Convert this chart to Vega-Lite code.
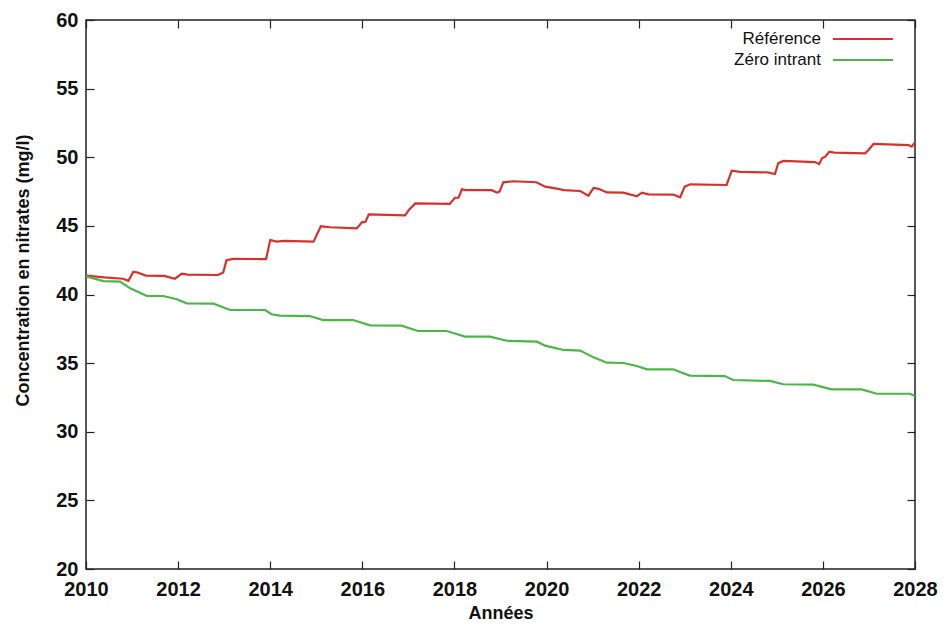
{
  "$schema": "https://vega.github.io/schema/vega-lite/v6.json",
  "width": 829,
  "height": 549,
  "autosize": "none",
  "padding": {"left": 86, "top": 20, "right": 33, "bottom": 55},
  "background": "white",
  "config": {
    "view": {"stroke": "#222222", "strokeWidth": 1.5},
    "font": "Liberation Sans",
    "axis": {
      "grid": false,
      "domain": false,
      "labelFlush": false,
      "labelOverlap": false,
      "tickColor": "#222222",
      "tickWidth": 1.2,
      "tickSize": -8,
      "labelFont": "Liberation Sans Narrow, Liberation Sans",
      "labelFontWeight": "bold",
      "labelFontSize": 20,
      "labelColor": "#111111",
      "titleFont": "Liberation Sans",
      "titleFontWeight": "bold",
      "titleFontSize": 18,
      "titleColor": "#111111"
    },
    "legend": {
      "orient": "none",
      "legendX": 766,
      "legendY": 8,
      "padding": 0,
      "title": null,
      "symbolType": "M-3,0H3",
      "symbolSize": 400,
      "symbolStrokeWidth": 2,
      "labelAlign": "right",
      "labelOffset": -53,
      "labelFont": "Liberation Sans",
      "labelFontSize": 17,
      "labelColor": "#111111",
      "labelLimit": 300,
      "rowPadding": 2
    }
  },
  "data": {
    "values": [
      {"serie": "Référence", "annee": 2010.0, "c": 41.38},
      {"serie": "Référence", "annee": 2010.4, "c": 41.25},
      {"serie": "Référence", "annee": 2010.8, "c": 41.15},
      {"serie": "Référence", "annee": 2010.92, "c": 41.0},
      {"serie": "Référence", "annee": 2011.03, "c": 41.66},
      {"serie": "Référence", "annee": 2011.12, "c": 41.6},
      {"serie": "Référence", "annee": 2011.3, "c": 41.38},
      {"serie": "Référence", "annee": 2011.7, "c": 41.35},
      {"serie": "Référence", "annee": 2011.93, "c": 41.15},
      {"serie": "Référence", "annee": 2012.08, "c": 41.52},
      {"serie": "Référence", "annee": 2012.2, "c": 41.45},
      {"serie": "Référence", "annee": 2012.87, "c": 41.42},
      {"serie": "Référence", "annee": 2012.98, "c": 41.6},
      {"serie": "Référence", "annee": 2013.05, "c": 42.5},
      {"serie": "Référence", "annee": 2013.2, "c": 42.6},
      {"serie": "Référence", "annee": 2013.91, "c": 42.58},
      {"serie": "Référence", "annee": 2014.0, "c": 43.97},
      {"serie": "Référence", "annee": 2014.14, "c": 43.85},
      {"serie": "Référence", "annee": 2014.3, "c": 43.9},
      {"serie": "Référence", "annee": 2014.94, "c": 43.85},
      {"serie": "Référence", "annee": 2015.1, "c": 44.97},
      {"serie": "Référence", "annee": 2015.3, "c": 44.9},
      {"serie": "Référence", "annee": 2015.88, "c": 44.82},
      {"serie": "Référence", "annee": 2015.99, "c": 45.26},
      {"serie": "Référence", "annee": 2016.07, "c": 45.3},
      {"serie": "Référence", "annee": 2016.14, "c": 45.84},
      {"serie": "Référence", "annee": 2016.93, "c": 45.76},
      {"serie": "Référence", "annee": 2017.02, "c": 46.2},
      {"serie": "Référence", "annee": 2017.15, "c": 46.64},
      {"serie": "Référence", "annee": 2017.9, "c": 46.6},
      {"serie": "Référence", "annee": 2018.01, "c": 47.05},
      {"serie": "Référence", "annee": 2018.09, "c": 47.05},
      {"serie": "Référence", "annee": 2018.16, "c": 47.66},
      {"serie": "Référence", "annee": 2018.25, "c": 47.6},
      {"serie": "Référence", "annee": 2018.81, "c": 47.6},
      {"serie": "Référence", "annee": 2018.92, "c": 47.42},
      {"serie": "Référence", "annee": 2018.98, "c": 47.5},
      {"serie": "Référence", "annee": 2019.06, "c": 48.17},
      {"serie": "Référence", "annee": 2019.28, "c": 48.25},
      {"serie": "Référence", "annee": 2019.78, "c": 48.18},
      {"serie": "Référence", "annee": 2019.97, "c": 47.86},
      {"serie": "Référence", "annee": 2020.22, "c": 47.72},
      {"serie": "Référence", "annee": 2020.37, "c": 47.6},
      {"serie": "Référence", "annee": 2020.73, "c": 47.54},
      {"serie": "Référence", "annee": 2020.91, "c": 47.2},
      {"serie": "Référence", "annee": 2021.02, "c": 47.76},
      {"serie": "Référence", "annee": 2021.13, "c": 47.7},
      {"serie": "Référence", "annee": 2021.31, "c": 47.44},
      {"serie": "Référence", "annee": 2021.67, "c": 47.42},
      {"serie": "Référence", "annee": 2021.96, "c": 47.15},
      {"serie": "Référence", "annee": 2022.07, "c": 47.42},
      {"serie": "Référence", "annee": 2022.21, "c": 47.3},
      {"serie": "Référence", "annee": 2022.75, "c": 47.28},
      {"serie": "Référence", "annee": 2022.9, "c": 47.08},
      {"serie": "Référence", "annee": 2023.0, "c": 47.86},
      {"serie": "Référence", "annee": 2023.12, "c": 48.03},
      {"serie": "Référence", "annee": 2023.91, "c": 47.98},
      {"serie": "Référence", "annee": 2024.02, "c": 49.02},
      {"serie": "Référence", "annee": 2024.2, "c": 48.93},
      {"serie": "Référence", "annee": 2024.8, "c": 48.9},
      {"serie": "Référence", "annee": 2024.96, "c": 48.78},
      {"serie": "Référence", "annee": 2025.03, "c": 49.56},
      {"serie": "Référence", "annee": 2025.14, "c": 49.73},
      {"serie": "Référence", "annee": 2025.83, "c": 49.65},
      {"serie": "Référence", "annee": 2025.92, "c": 49.5},
      {"serie": "Référence", "annee": 2025.98, "c": 49.92},
      {"serie": "Référence", "annee": 2026.05, "c": 50.04},
      {"serie": "Référence", "annee": 2026.14, "c": 50.4},
      {"serie": "Référence", "annee": 2026.25, "c": 50.34},
      {"serie": "Référence", "annee": 2026.92, "c": 50.29},
      {"serie": "Référence", "annee": 2026.99, "c": 50.53},
      {"serie": "Référence", "annee": 2027.1, "c": 50.97},
      {"serie": "Référence", "annee": 2027.24, "c": 50.95},
      {"serie": "Référence", "annee": 2027.86, "c": 50.89},
      {"serie": "Référence", "annee": 2027.93, "c": 50.77},
      {"serie": "Référence", "annee": 2028.0, "c": 51.09},
      {"serie": "Zéro intrant", "annee": 2010.0, "c": 41.32},
      {"serie": "Zéro intrant", "annee": 2010.38, "c": 40.98},
      {"serie": "Zéro intrant", "annee": 2010.74, "c": 40.94},
      {"serie": "Zéro intrant", "annee": 2010.96, "c": 40.45},
      {"serie": "Zéro intrant", "annee": 2011.17, "c": 40.13},
      {"serie": "Zéro intrant", "annee": 2011.32, "c": 39.89},
      {"serie": "Zéro intrant", "annee": 2011.68, "c": 39.89},
      {"serie": "Zéro intrant", "annee": 2011.97, "c": 39.65},
      {"serie": "Zéro intrant", "annee": 2012.19, "c": 39.36},
      {"serie": "Zéro intrant", "annee": 2012.77, "c": 39.33},
      {"serie": "Zéro intrant", "annee": 2013.13, "c": 38.87},
      {"serie": "Zéro intrant", "annee": 2013.89, "c": 38.87},
      {"serie": "Zéro intrant", "annee": 2014.03, "c": 38.56},
      {"serie": "Zéro intrant", "annee": 2014.21, "c": 38.46},
      {"serie": "Zéro intrant", "annee": 2014.86, "c": 38.43},
      {"serie": "Zéro intrant", "annee": 2015.15, "c": 38.14},
      {"serie": "Zéro intrant", "annee": 2015.8, "c": 38.14},
      {"serie": "Zéro intrant", "annee": 2016.17, "c": 37.75},
      {"serie": "Zéro intrant", "annee": 2016.85, "c": 37.73},
      {"serie": "Zéro intrant", "annee": 2017.21, "c": 37.34},
      {"serie": "Zéro intrant", "annee": 2017.83, "c": 37.34},
      {"serie": "Zéro intrant", "annee": 2018.23, "c": 36.93},
      {"serie": "Zéro intrant", "annee": 2018.77, "c": 36.93},
      {"serie": "Zéro intrant", "annee": 2019.14, "c": 36.63},
      {"serie": "Zéro intrant", "annee": 2019.79, "c": 36.56},
      {"serie": "Zéro intrant", "annee": 2019.97, "c": 36.27},
      {"serie": "Zéro intrant", "annee": 2020.37, "c": 35.96},
      {"serie": "Zéro intrant", "annee": 2020.73, "c": 35.91},
      {"serie": "Zéro intrant", "annee": 2021.02, "c": 35.42},
      {"serie": "Zéro intrant", "annee": 2021.31, "c": 35.03},
      {"serie": "Zéro intrant", "annee": 2021.67, "c": 35.01},
      {"serie": "Zéro intrant", "annee": 2021.96, "c": 34.79},
      {"serie": "Zéro intrant", "annee": 2022.18, "c": 34.55},
      {"serie": "Zéro intrant", "annee": 2022.75, "c": 34.55},
      {"serie": "Zéro intrant", "annee": 2022.9, "c": 34.35},
      {"serie": "Zéro intrant", "annee": 2023.11, "c": 34.09},
      {"serie": "Zéro intrant", "annee": 2023.87, "c": 34.06},
      {"serie": "Zéro intrant", "annee": 2024.05, "c": 33.77},
      {"serie": "Zéro intrant", "annee": 2024.85, "c": 33.7},
      {"serie": "Zéro intrant", "annee": 2025.14, "c": 33.46},
      {"serie": "Zéro intrant", "annee": 2025.79, "c": 33.43},
      {"serie": "Zéro intrant", "annee": 2026.19, "c": 33.09},
      {"serie": "Zéro intrant", "annee": 2026.84, "c": 33.09},
      {"serie": "Zéro intrant", "annee": 2027.17, "c": 32.77},
      {"serie": "Zéro intrant", "annee": 2027.89, "c": 32.77},
      {"serie": "Zéro intrant", "annee": 2028.0, "c": 32.6}
    ]
  },
  "layer": [
    {
      "mark": {"type": "line", "strokeWidth": 2.2, "interpolate": "linear"},
      "encoding": {
        "x": {
          "field": "annee", "type": "quantitative",
          "scale": {"domain": [2010, 2028], "nice": false, "zero": false},
          "axis": {"orient": "bottom", "values": [2010, 2012, 2014, 2016, 2018, 2020, 2022, 2024, 2026, 2028], "format": "d", "labelPadding": 18, "title": "Années", "titleBaseline": "middle", "titleY": 44}
        },
        "y": {
          "field": "c", "type": "quantitative",
          "scale": {"domain": [20, 60], "nice": false, "zero": false},
          "axis": {"orient": "left", "values": [20, 25, 30, 35, 40, 45, 50, 55, 60], "labelPadding": 16, "title": "Concentration en nitrates (mg/l)", "titleBaseline": "middle", "titleX": -63, "titleY": 250}
        },
        "color": {
          "field": "serie", "type": "nominal",
          "scale": {"domain": ["Référence", "Zéro intrant"], "range": ["#d9302c", "#4cb648"]}
        }
      }
    },
    {
      "mark": {"type": "line", "opacity": 0},
      "encoding": {
        "x": {
          "field": "annee", "type": "quantitative",
          "axis": {"orient": "top", "values": [2010, 2012, 2014, 2016, 2018, 2020, 2022, 2024, 2026, 2028], "labels": false, "title": null}
        },
        "y": {
          "field": "c", "type": "quantitative",
          "axis": {"orient": "right", "values": [20, 25, 30, 35, 40, 45, 50, 55, 60], "labels": false, "title": null}
        },
        "detail": {"field": "serie"}
      }
    }
  ],
  "resolve": {"axis": {"x": "independent", "y": "independent"}}
}
